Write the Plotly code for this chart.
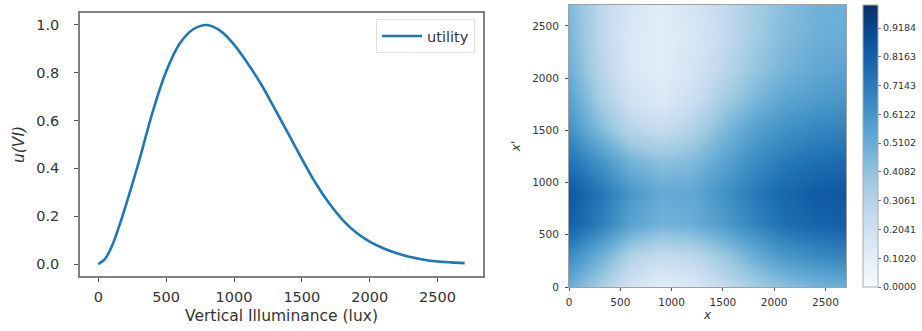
import plotly.graph_objects as go

# ---- left panel: utility curve ----
illuminance = [0, 50, 100, 150, 200, 300, 400, 500, 600, 700, 800, 900, 1000, 1100, 1200,
               1300, 1400, 1500, 1600, 1700, 1800, 1900, 2000, 2100, 2200, 2300, 2400,
               2500, 2600, 2700]
utility = [0.0, 0.022, 0.075, 0.152, 0.24, 0.43, 0.635, 0.805, 0.922, 0.982, 1.0, 0.975,
           0.918, 0.84, 0.752, 0.65, 0.545, 0.44, 0.34, 0.255, 0.185, 0.132, 0.094,
           0.066, 0.045, 0.029, 0.018, 0.011, 0.007, 0.004]

# ---- right panel: heatmap over (x, x') ----
grid_x = [0, 300, 600, 900, 1200, 1500, 1800, 2100, 2400, 2700]
grid_xp = [0, 300, 600, 900, 1200, 1500, 1800, 2100, 2400, 2700]
# columns indexed by x, each column lists values at x' = grid_xp
cols = [
    [0.50, 0.65, 0.82, 0.85, 0.75, 0.63, 0.56, 0.50, 0.47, 0.46],  # x=0
    [0.35, 0.50, 0.70, 0.74, 0.62, 0.45, 0.35, 0.30, 0.28, 0.28],  # x=300
    [0.18, 0.32, 0.55, 0.60, 0.48, 0.30, 0.20, 0.15, 0.15, 0.16],  # x=600
    [0.10, 0.25, 0.48, 0.52, 0.42, 0.25, 0.14, 0.11, 0.11, 0.12],  # x=900
    [0.15, 0.28, 0.50, 0.53, 0.45, 0.32, 0.22, 0.17, 0.16, 0.17],  # x=1200
    [0.25, 0.38, 0.58, 0.62, 0.55, 0.45, 0.35, 0.28, 0.25, 0.26],  # x=1500
    [0.35, 0.50, 0.68, 0.72, 0.65, 0.56, 0.46, 0.39, 0.36, 0.35],  # x=1800
    [0.42, 0.60, 0.76, 0.79, 0.72, 0.63, 0.54, 0.47, 0.44, 0.43],  # x=2100
    [0.47, 0.65, 0.80, 0.83, 0.76, 0.67, 0.58, 0.52, 0.49, 0.48],  # x=2400
    [0.50, 0.68, 0.82, 0.85, 0.78, 0.69, 0.61, 0.55, 0.51, 0.50],  # x=2700
]
z = [[cols[j][i] for j in range(len(grid_x))] for i in range(len(grid_xp))]

cbar_tickvals = [k * 5 / 49 for k in range(10)]
cbar_ticktext = ["%.4f" % v for v in cbar_tickvals]

blues = [[0.0, "#f7fbff"], [0.125, "#deebf7"], [0.25, "#c6dbef"], [0.375, "#9ecae1"],
         [0.5, "#6baed6"], [0.625, "#4292c6"], [0.75, "#2171b5"], [0.875, "#08519c"],
         [1.0, "#08306b"]]

W, H = 922, 331
ML, MR, MT, MB = 80, 922 - 846, 5, 331 - 287
PW, PH = W - ML - MR, H - MT - MB

def dx(a, b):
    return [(a - ML) / PW, (b - ML) / PW]

def dy(top, bottom):
    return [1 - (bottom - MT) / PH, 1 - (top - MT) / PH]

FONT = "DejaVu Sans"
fig = go.Figure()
fig.add_trace(go.Scatter(x=illuminance, y=utility, mode="lines", name="utility",
                         line=dict(color="#1f77b4", width=2.6, shape="spline", smoothing=1.0),
                         xaxis="x", yaxis="y"))
fig.add_trace(go.Heatmap(x=grid_x, y=grid_xp, z=z, zmin=0, zmax=1, zsmooth="best",
                         colorscale=blues, xaxis="x2", yaxis="y2", showscale=True,
                         colorbar=dict(x=(863 - ML) / PW, xanchor="left", y=0, yanchor="bottom",
                                       len=1, lenmode="fraction", thickness=15,
                                       xpad=0, ypad=0, outlinecolor="#aaaaaa", outlinewidth=1,
                                       tickvals=cbar_tickvals, ticktext=cbar_ticktext,
                                       ticks="outside", ticklen=3, tickcolor="#777",
                                       tickfont=dict(family=FONT, size=9.5, color="#333"))))

axis_common = dict(showgrid=False, zeroline=False, showline=True, mirror=True,
                   ticks="outside", tickcolor="#555", automargin=False)
fig.update_layout(
    width=W, height=H, margin=dict(l=ML, r=MR, t=MT, b=MB, autoexpand=False),
    paper_bgcolor="white", plot_bgcolor="white",
    font=dict(family=FONT, color="#333"),
    showlegend=True,
    legend=dict(x=(475 - ML) / PW, xanchor="right", y=1 - (19 - MT) / PH, yanchor="top",
                bordercolor="#dddddd", borderwidth=1, bgcolor="white",
                itemwidth=40,
                font=dict(family=FONT, size=14.5, color="#333")),
    xaxis=dict(domain=dx(80, 483), range=[-135, 2835], tickvals=[0, 500, 1000, 1500, 2000, 2500],
               linecolor="#808080", linewidth=1.5, ticklen=4, tickfont=dict(size=14.5),
               ticklabelstandoff=3,
               title=dict(text="Vertical Illuminance (lux)", font=dict(size=15.5), standoff=6),
               anchor="y", **axis_common),
    yaxis=dict(domain=dy(13, 276), range=[-0.05, 1.05], tickvals=[0, 0.2, 0.4, 0.6, 0.8, 1.0],
               tickformat=".1f", linecolor="#808080", linewidth=1.5, ticklen=4,
               tickfont=dict(size=14.5), ticklabelstandoff=12,
               title=dict(text="<i>u(VI)</i>", font=dict(size=15.5), standoff=8),
               anchor="x", **axis_common),
    xaxis2=dict(domain=dx(569, 846), range=[0, 2700], tickvals=[0, 500, 1000, 1500, 2000, 2500],
                linecolor="#a0a0a0", linewidth=1, ticklen=3, tickfont=dict(size=10.5),
                ticklabelstandoff=2,
                title=dict(text="<i>x</i>", font=dict(size=12), standoff=1),
                anchor="y2", **axis_common),
    yaxis2=dict(domain=dy(5, 287), range=[0, 2700], tickvals=[0, 500, 1000, 1500, 2000, 2500],
                linecolor="#a0a0a0", linewidth=1, ticklen=3, tickfont=dict(size=10.5),
                ticklabelstandoff=4,
                title=dict(text="<i>x'</i>", font=dict(size=12), standoff=8),
                anchor="x2", **axis_common),
)
fig.write_html("out.html", config={"displayModeBar": False},
               post_script="document.body.style.margin='0px';")
